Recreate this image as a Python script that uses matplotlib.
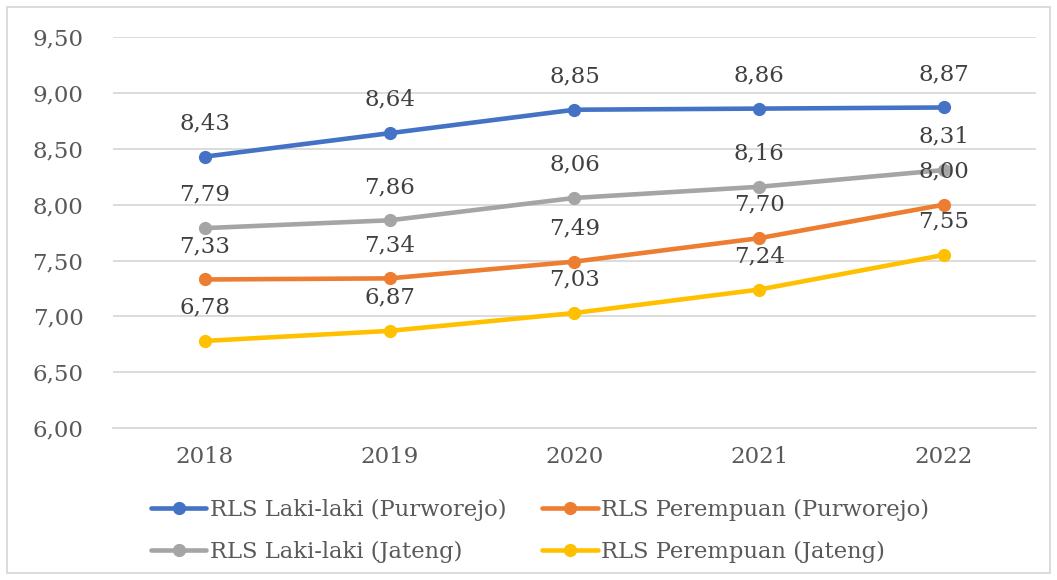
import numpy as np
import matplotlib.pyplot as plt
from matplotlib.patches import Rectangle

# -------------------
#    Data
# -------------------
years = ['2018', '2019', '2020', '2021', '2022']

rls_laki_purworejo = [8.43, 8.64, 8.85, 8.86, 8.87]
rls_perempuan_purworejo = [7.33, 7.34, 7.49, 7.70, 8.00]
rls_laki_jateng = [7.79, 7.86, 8.06, 8.16, 8.31]
rls_perempuan_jateng = [6.78, 6.87, 7.03, 7.24, 7.55]

y_ticks = [6.0, 6.5, 7.0, 7.5, 8.0, 8.5, 9.0, 9.5]

plt.rcParams['font.family'] = ['DejaVu Serif']

fig = plt.figure(figsize=(10.57, 5.80), dpi=100)
ax = fig.add_axes([0.1065, 0.262, 0.874, 0.674])

x = np.arange(len(years))

# order: blue, gray, orange, yellow -> legend fills column-wise
series = [
    (rls_laki_purworejo, '#4472C4', 'RLS Laki-laki (Purworejo)'),
    (rls_laki_jateng, '#A5A5A5', 'RLS Laki-laki (Jateng)'),
    (rls_perempuan_purworejo, '#ED7D31', 'RLS Perempuan (Purworejo)'),
    (rls_perempuan_jateng, '#FFC000', 'RLS Perempuan (Jateng)'),
]

for vals, col, lab in series:
    ax.plot(x, vals, c=col, lw=3.3, marker='o', markersize=8.5,
            label=lab, solid_capstyle='round', zorder=3)

for vals, col, lab in series:
    for xi, v in zip(x, vals):
        ax.annotate(f'{v:.2f}'.replace('.', ','), (xi, v),
                    xytext=(0, 24), textcoords='offset points',
                    ha='center', va='center', fontsize=16.5,
                    color='#404040', zorder=5)

ax.set_xlim(-0.5, len(years) - 0.5)
ax.set_ylim(6.0, 9.5)
ax.set_xticks(x)
ax.set_xticklabels(years)
ax.set_yticks(y_ticks)
ax.set_yticklabels([f'{t:.2f}'.replace('.', ',') for t in y_ticks])
ax.tick_params(axis='both', length=0, labelsize=16.5, colors='#595959')
ax.tick_params(axis='y', pad=21)
ax.tick_params(axis='x', pad=13)
ax.grid(axis='y', color='#D9D9D9', lw=1.3)
ax.set_axisbelow(True)
for s in ax.spines.values():
    s.set_visible(False)
ax.spines['bottom'].set_visible(True)
ax.spines['bottom'].set_color('#D9D9D9')
ax.spines['bottom'].set_linewidth(1.3)

leg = fig.legend(loc='center', bbox_to_anchor=(0.511, 0.0845), ncol=2,
                 frameon=False, fontsize=16.3, handlelength=2.45,
                 handletextpad=0.15, columnspacing=1.6, labelspacing=0.85,
                 labelcolor='#595959')

# outer chart border
fig.patches.append(Rectangle((7 / 1057, 7 / 580), 1043 / 1057, 566 / 580,
                             transform=fig.transFigure, fill=False,
                             edgecolor='#D9D9D9', lw=1.3))

plt.savefig('out.png', dpi=100)
